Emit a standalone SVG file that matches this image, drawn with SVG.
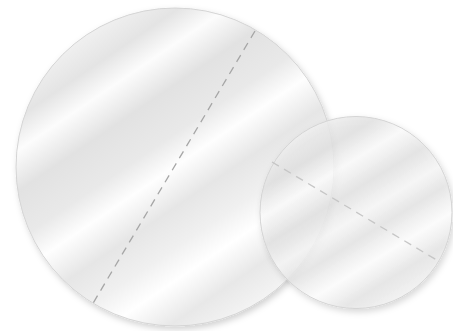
<svg xmlns="http://www.w3.org/2000/svg" width="453" height="331" viewBox="0 0 453 331">
<style>
.disc{stroke:#d4d4d4;stroke-width:1}
.cut{fill:none;stroke-dasharray:8 6;stroke-width:1.3}
</style>
<defs>
<filter id="sh" x="-10%" y="-10%" width="125%" height="125%">
<feDropShadow dx="2" dy="3" stdDeviation="3" flood-color="#000" flood-opacity="0.18"/>
</filter>
<linearGradient id="g1" gradientUnits="userSpaceOnUse" x1="60" y1="40" x2="250" y2="320">
<stop offset="0" stop-color="#f4f4f4"/>
<stop offset="0.12" stop-color="#e4e4e4"/>
<stop offset="0.2" stop-color="#fcfcfc"/>
<stop offset="0.3" stop-color="#e2e2e2"/>
<stop offset="0.42" stop-color="#e9e9e9"/>
<stop offset="0.5" stop-color="#fefefe"/>
<stop offset="0.6" stop-color="#e6e6e6"/>
<stop offset="0.7" stop-color="#f0f0f0"/>
<stop offset="0.78" stop-color="#ffffff"/>
<stop offset="0.88" stop-color="#e8e8e8"/>
<stop offset="1" stop-color="#f7f7f7"/>
</linearGradient>
<linearGradient id="g2" gradientUnits="userSpaceOnUse" x1="300" y1="130" x2="405" y2="300">
<stop offset="0" stop-color="#f2f2f2"/>
<stop offset="0.15" stop-color="#e1e1e1"/>
<stop offset="0.27" stop-color="#fbfbfb"/>
<stop offset="0.4" stop-color="#e3e3e3"/>
<stop offset="0.52" stop-color="#f7f7f7"/>
<stop offset="0.62" stop-color="#e5e5e5"/>
<stop offset="0.75" stop-color="#fefefe"/>
<stop offset="0.87" stop-color="#e6e6e6"/>
<stop offset="1" stop-color="#f5f5f5"/>
</linearGradient>
</defs>
<rect width="453" height="331" fill="#ffffff"/>
<g id="large-disc">
<circle class="disc" cx="175" cy="167" r="159" fill="url(#g1)" filter="url(#sh)"/>
</g>
<g id="small-disc">
<circle class="disc" cx="356" cy="212.5" r="96" fill="url(#g2)" fill-opacity="0.82" filter="url(#sh)"/>
</g>
<g id="connectors">
<line class="cut" x1="255" y1="31" x2="92" y2="305" stroke="#a6a6a6"/>
<line class="cut" x1="272" y1="162" x2="440" y2="262" stroke="#c6c6c6"/>
</g>
</svg>
